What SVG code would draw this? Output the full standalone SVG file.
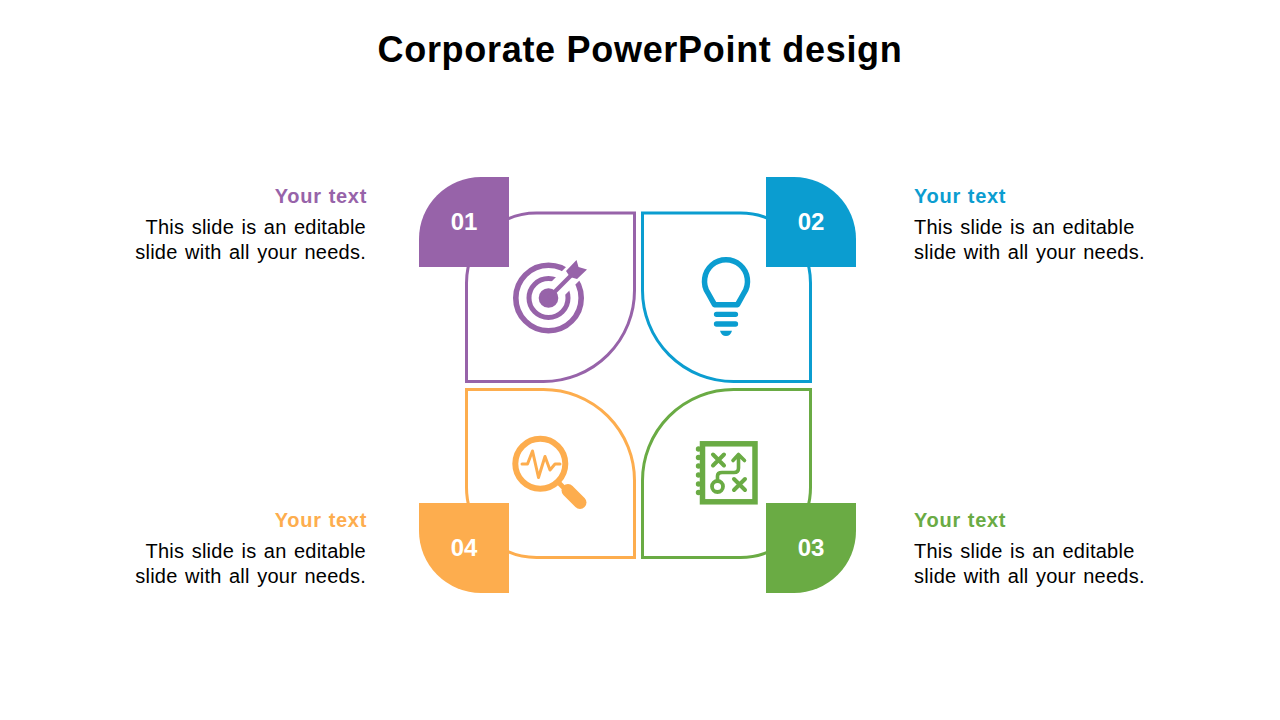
<svg xmlns="http://www.w3.org/2000/svg" width="1280" height="720" viewBox="0 0 1280 720">
<style>
text{font-family:"Liberation Sans",Arial,sans-serif}
.title{font-size:36px;font-weight:700;fill:#000;text-anchor:middle;letter-spacing:.7px}
.head{font-size:20px;font-weight:700;letter-spacing:.7px;word-spacing:.7px}
.body{font-size:20px;fill:#000;letter-spacing:.25px;word-spacing:1.6px}
.num{font-size:24px;font-weight:700;fill:#fff;text-anchor:middle}
.end{text-anchor:end}
.card{fill:none;stroke-width:3}
.ln{fill:none;stroke-linecap:round;stroke-linejoin:round}
.purple{fill:#9763A9}.blue{fill:#0B9DD0}.green{fill:#6AAB44}.orange{fill:#FDAD4E}
</style>
<rect width="1280" height="720" fill="#fff"/>
<text class="title" x="640" y="62">Corporate PowerPoint design</text>

<g id="node-01">
<path class="card" stroke="#9763A9" d="M466.500 381.500H543.500A91 91 0 0 0 634.500 290.500V213H536.500A70 70 0 0 0 466.500 283Z"/>
<path class="purple" d="M419 267V239A62 62 0 0 1 481 177H509V267Z"/>
<text class="num" x="464" y="230">01</text>
<g id="icon-target">
<circle class="ln" cx="548.500" cy="298" r="32.700" stroke="#9763A9" stroke-width="5.600"/>
<circle class="ln" cx="548.500" cy="298" r="19.500" stroke="#9763A9" stroke-width="5"/>
<path d="M556 290.500L590 256.500" stroke="#fff" stroke-width="19" fill="none"/>
<circle class="purple" cx="548.500" cy="298" r="9.800"/>
<path d="M548.500 298L572 274.500" stroke="#9763A9" stroke-width="4.200" fill="none"/>
<path class="purple" d="M566 271L576.500 260L578.500 267L587 269.500L577 279L570 277Z"/>
</g>
</g>

<g id="node-02">
<path class="card" stroke="#0B9DD0" d="M810.500 381.500H733.500A91 91 0 0 1 642.500 290.500V213H740.500A70 70 0 0 1 810.500 283Z"/>
<path class="blue" d="M856 267V239A62 62 0 0 0 794 177H766V267Z"/>
<text class="num" x="811" y="230">02</text>
<g id="icon-bulb">
<path class="ln" stroke="#0B9DD0" stroke-width="5.500" d="M714.500 304.700L708 293A21.500 21.500 0 1 1 744 293L737.500 304.700Z"/>
<path class="ln" stroke="#0B9DD0" stroke-width="5.300" d="M716.500 314.300H735.500M716.500 324H735.500"/>
<path class="blue" d="M720 330.700H732Q730.500 336 726 336Q721.500 336 720 330.700Z"/>
</g>
</g>

<g id="node-03">
<path class="card" stroke="#6AAB44" d="M810.500 389.500H733.500A91 91 0 0 0 642.500 480.500V557.500H740.500A70 70 0 0 0 810.500 487.500Z"/>
<path class="green" d="M856 503V531A62 62 0 0 1 794 593H766V503Z"/>
<text class="num" x="811" y="556">03</text>
<g id="icon-map">
<rect x="702.500" y="443.800" width="52.500" height="58" fill="none" stroke="#6AAB44" stroke-width="5.500"/>
<g class="green"><circle cx="698.500" cy="449" r="2.700"/><circle cx="698.500" cy="457.500" r="2.700"/><circle cx="698.500" cy="466" r="2.700"/><circle cx="698.500" cy="475" r="2.700"/><circle cx="698.500" cy="484" r="2.700"/><circle cx="698.500" cy="492.500" r="2.700"/></g>
<path class="ln" stroke="#6AAB44" stroke-width="4" d="M713 454.500L724 465.500M724 454.500L713 465.500M734 479L745 490M745 479L734 490"/>
<circle cx="717.500" cy="486.500" r="5.500" fill="none" stroke="#6AAB44" stroke-width="3.800"/>
<path class="ln" stroke="#6AAB44" stroke-width="3.600" d="M717.500 481V476Q717.500 472.500 722 472.500H734Q738.500 472.500 738.500 468V455M733 460.500L738.500 454.500L744.500 460.500"/>
</g>
</g>

<g id="node-04">
<path class="card" stroke="#FDAD4E" d="M466.500 389.500H543.500A91 91 0 0 1 634.500 480.500V557.500H536.500A70 70 0 0 1 466.500 487.500Z"/>
<path class="orange" d="M419 503V531A62 62 0 0 0 481 593H509V503Z"/>
<text class="num" x="464" y="556">04</text>
<g id="icon-magnifier">
<circle cx="540.300" cy="463.800" r="25" fill="none" stroke="#FDAD4E" stroke-width="6"/>
<path class="ln" stroke="#FDAD4E" stroke-width="3" d="M522 464H527.500L532.500 451L538.500 477.500L545 456.500L550 470L555 464H560"/>
<path d="M559 483L566 490" stroke="#FDAD4E" stroke-width="5" fill="none"/>
<path class="ln" stroke="#FDAD4E" stroke-width="13" d="M568 490.500L580 502.500"/>
</g>
</g>

<g id="labels">
<text class="head end" x="367" y="203" style="fill:#9763A9">Your text</text>
<text class="body end" x="366" y="234">This slide is an editable</text>
<text class="body end" x="366" y="259">slide with all your needs.</text>
<text class="head" x="914" y="203" style="fill:#0B9DD0">Your text</text>
<text class="body" x="914" y="234">This slide is an editable</text>
<text class="body" x="914" y="259">slide with all your needs.</text>
<text class="head end" x="367" y="527" style="fill:#FDAD4E">Your text</text>
<text class="body end" x="366" y="558">This slide is an editable</text>
<text class="body end" x="366" y="583">slide with all your needs.</text>
<text class="head" x="914" y="527" style="fill:#6AAB44">Your text</text>
<text class="body" x="914" y="558">This slide is an editable</text>
<text class="body" x="914" y="583">slide with all your needs.</text>
</g>
</svg>
